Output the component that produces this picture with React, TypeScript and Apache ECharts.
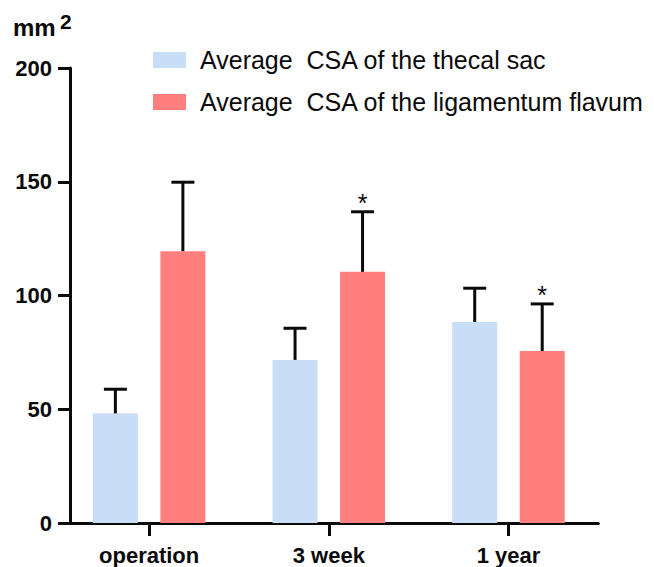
import React, { useEffect, useRef } from "react";
import * as echarts from "echarts";

const categories = ["operation", "3 week", "1 year"];
const thecalMean = [48.2, 71.7, 88.4];
const thecalSD = [10.6, 13.9, 14.8];
const flavumMean = [119.5, 110.4, 75.6];
const flavumSD = [30.3, 26.4, 20.7];
const flavumMarks = ["", "*", "*"];
const thecalMarks = ["", "", ""];
const yTicks = { min: 0, max: 200, interval: 50 };

const FONT = "'Liberation Sans', Arial, Helvetica, sans-serif";
const BLUE = "#C8DDF6";
const RED = "#FF7F7F";
const INK = "#0a0a0a";
const BAR_W = 45;
const OFFSET = 33.75;

function errorSeries(mean: number[], sd: number[], marks: string[], side: number) {
  return {
    type: "custom",
    z: 5,
    silent: true,
    data: mean.map((m, i) => [i, m, m + sd[i]]),
    encode: { x: 0, y: [1, 2] },
    renderItem: (params: any, api: any) => {
      const ci = api.value(0);
      const base = api.coord([ci, api.value(1)]);
      const top = api.coord([ci, api.value(2)]);
      const x = base[0] + side * OFFSET;
      const mark = marks[params.dataIndex];
      const children: any[] = [
        {
          type: "line",
          shape: { x1: x, y1: base[1], x2: x, y2: top[1] },
          style: { stroke: INK, lineWidth: 3 },
        },
        {
          type: "line",
          shape: { x1: x - 11.5, y1: top[1], x2: x + 11.5, y2: top[1] },
          style: { stroke: INK, lineWidth: 3 },
        },
      ];
      if (mark) {
        children.push({
          type: "text",
          style: {
            text: mark,
            x: x,
            y: top[1] + 4,
            align: "center",
            verticalAlign: "bottom",
            fontSize: 25,
            fontFamily: FONT,
            fill: INK,
          },
        });
      }
      return { type: "group", children };
    },
  };
}

export default function App() {
  const ref = useRef<HTMLDivElement>(null);
  useEffect(() => {
    document.body.style.margin = "0";
    if (!ref.current) return;
    const chart = echarts.init(ref.current, null, { renderer: "svg" });
    chart.setOption({
      animation: false,
      backgroundColor: "#ffffff",
      grid: { left: 59.3, right: 55.7, top: 68, bottom: 44 },
      legend: {
        orient: "vertical",
        left: 148,
        top: 42,
        itemWidth: 33,
        itemHeight: 16,
        itemGap: 16,
        icon: "rect",
        data: ["Average  CSA of the thecal sac", "Average  CSA of the ligamentum flavum"],
        textStyle: {
          fontSize: 25,
          lineHeight: 26,
          fontFamily: FONT,
          color: INK,
          padding: [0, 0, 0, 9],
        },
      },
      xAxis: {
        type: "category",
        data: categories,
        axisLine: { show: true, lineStyle: { color: INK, width: 3 } },
        axisTick: { show: true, alignWithLabel: true, length: 13, lineStyle: { color: INK, width: 3 } },
        axisLabel: {
          margin: 21,
          fontSize: 22,
          fontWeight: "bold",
          fontFamily: FONT,
          color: INK,
        },
        splitLine: { show: false },
      },
      yAxis: {
        type: "value",
        min: yTicks.min,
        max: yTicks.max,
        interval: yTicks.interval,
        offset: -10.7,
        axisLine: { show: true, lineStyle: { color: INK, width: 3 } },
        axisTick: { show: true, length: 12, lineStyle: { color: INK, width: 3 } },
        axisLabel: {
          margin: 18,
          fontSize: 22,
          fontWeight: "bold",
          fontFamily: FONT,
          color: INK,
        },
        splitLine: { show: false },
      },
      graphic: [
        {
          type: "text",
          left: 13,
          top: 15,
          style: { text: "mm", fontSize: 24, fontWeight: "bold", fontFamily: FONT, fill: INK },
        },
        {
          type: "text",
          left: 60,
          top: 11,
          style: { text: "2", fontSize: 21, fontWeight: "bold", fontFamily: FONT, fill: INK },
        },
      ],
      series: [
        {
          name: "Average  CSA of the thecal sac",
          type: "bar",
          data: thecalMean,
          barWidth: BAR_W,
          barGap: "50%",
          itemStyle: { color: BLUE },
        },
        {
          name: "Average  CSA of the ligamentum flavum",
          type: "bar",
          data: flavumMean,
          barWidth: BAR_W,
          barGap: "50%",
          itemStyle: { color: RED },
        },
        errorSeries(thecalMean, thecalSD, thecalMarks, -1),
        errorSeries(flavumMean, flavumSD, flavumMarks, 1),
      ],
    });
    return () => chart.dispose();
  }, []);
  return <div ref={ref} style={{ width: 654, height: 567 }} />;
}
